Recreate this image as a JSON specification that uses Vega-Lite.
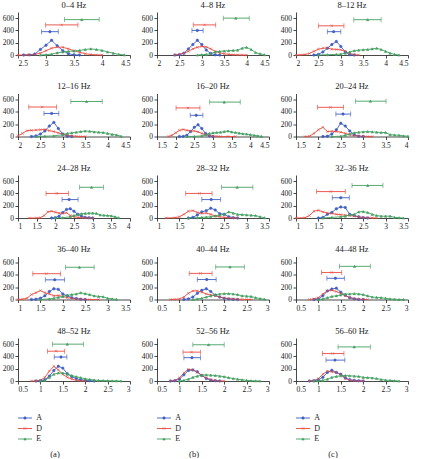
{
  "$schema": "https://vega.github.io/schema/vega-lite/v6.json",
  "padding": {"left": 2, "top": 0, "right": 2, "bottom": 0},
  "data": {"name": "d"},
  "datasets": {
    "d": [
      {"f":"0–4","s":"A","x":2.6,"y":0},{"f":"0–4","s":"A","x":2.7,"y":2},{"f":"0–4","s":"A","x":2.8,"y":15},{"f":"0–4","s":"A","x":2.9,"y":90},{"f":"0–4","s":"A","x":3.0,"y":160},{"f":"0–4","s":"A","x":3.1,"y":240},{"f":"0–4","s":"A","x":3.2,"y":150},{"f":"0–4","s":"A","x":3.3,"y":70},{"f":"0–4","s":"A","x":3.4,"y":20},{"f":"0–4","s":"A","x":3.5,"y":3},{"f":"0–4","s":"A","x":3.6,"y":0},
      {"f":"0–4","s":"D","x":2.5,"y":0},{"f":"0–4","s":"D","x":2.6,"y":0},{"f":"0–4","s":"D","x":2.7,"y":3},{"f":"0–4","s":"D","x":2.8,"y":10},{"f":"0–4","s":"D","x":2.9,"y":30},{"f":"0–4","s":"D","x":3.0,"y":70},{"f":"0–4","s":"D","x":3.1,"y":110},{"f":"0–4","s":"D","x":3.2,"y":130},{"f":"0–4","s":"D","x":3.3,"y":125},{"f":"0–4","s":"D","x":3.4,"y":100},{"f":"0–4","s":"D","x":3.5,"y":70},{"f":"0–4","s":"D","x":3.6,"y":45},{"f":"0–4","s":"D","x":3.7,"y":20},{"f":"0–4","s":"D","x":3.8,"y":8},{"f":"0–4","s":"D","x":3.9,"y":2},{"f":"0–4","s":"D","x":4.0,"y":0},
      {"f":"0–4","s":"E","x":2.9,"y":0},{"f":"0–4","s":"E","x":3.0,"y":5},{"f":"0–4","s":"E","x":3.1,"y":15},{"f":"0–4","s":"E","x":3.2,"y":35},{"f":"0–4","s":"E","x":3.3,"y":50},{"f":"0–4","s":"E","x":3.4,"y":60},{"f":"0–4","s":"E","x":3.5,"y":65},{"f":"0–4","s":"E","x":3.6,"y":75},{"f":"0–4","s":"E","x":3.7,"y":90},{"f":"0–4","s":"E","x":3.8,"y":100},{"f":"0–4","s":"E","x":3.9,"y":90},{"f":"0–4","s":"E","x":4.0,"y":75},{"f":"0–4","s":"E","x":4.1,"y":50},{"f":"0–4","s":"E","x":4.2,"y":30},{"f":"0–4","s":"E","x":4.3,"y":10},{"f":"0–4","s":"E","x":4.4,"y":2},
      {"f":"0–4","s":"A","k":"lo","x":2.92,"y":380},{"f":"0–4","s":"A","k":"m","x":3.07,"y":380},{"f":"0–4","s":"A","k":"hi","x":3.22,"y":380},
      {"f":"0–4","s":"D","k":"lo","x":2.99,"y":490},{"f":"0–4","s":"D","k":"m","x":3.28,"y":490},{"f":"0–4","s":"D","k":"hi","x":3.57,"y":490},
      {"f":"0–4","s":"E","k":"lo","x":3.33,"y":576},{"f":"0–4","s":"E","k":"m","x":3.64,"y":576},{"f":"0–4","s":"E","k":"hi","x":3.95,"y":576},

      {"f":"4–8","s":"A","x":2.4,"y":0},{"f":"4–8","s":"A","x":2.5,"y":5},{"f":"4–8","s":"A","x":2.6,"y":30},{"f":"4–8","s":"A","x":2.7,"y":100},{"f":"4–8","s":"A","x":2.8,"y":170},{"f":"4–8","s":"A","x":2.9,"y":240},{"f":"4–8","s":"A","x":3.0,"y":170},{"f":"4–8","s":"A","x":3.1,"y":80},{"f":"4–8","s":"A","x":3.2,"y":25},{"f":"4–8","s":"A","x":3.3,"y":3},{"f":"4–8","s":"A","x":3.4,"y":0},
      {"f":"4–8","s":"D","x":2.4,"y":0},{"f":"4–8","s":"D","x":2.5,"y":10},{"f":"4–8","s":"D","x":2.6,"y":30},{"f":"4–8","s":"D","x":2.7,"y":60},{"f":"4–8","s":"D","x":2.8,"y":100},{"f":"4–8","s":"D","x":2.9,"y":125},{"f":"4–8","s":"D","x":3.0,"y":140},{"f":"4–8","s":"D","x":3.1,"y":130},{"f":"4–8","s":"D","x":3.2,"y":100},{"f":"4–8","s":"D","x":3.3,"y":60},{"f":"4–8","s":"D","x":3.4,"y":35},{"f":"4–8","s":"D","x":3.5,"y":20},{"f":"4–8","s":"D","x":3.6,"y":10},{"f":"4–8","s":"D","x":3.7,"y":5},{"f":"4–8","s":"D","x":3.8,"y":2},{"f":"4–8","s":"D","x":3.9,"y":0},{"f":"4–8","s":"D","x":4.0,"y":0},
      {"f":"4–8","s":"E","x":2.9,"y":0},{"f":"4–8","s":"E","x":3.0,"y":5},{"f":"4–8","s":"E","x":3.1,"y":10},{"f":"4–8","s":"E","x":3.2,"y":20},{"f":"4–8","s":"E","x":3.3,"y":50},{"f":"4–8","s":"E","x":3.4,"y":60},{"f":"4–8","s":"E","x":3.5,"y":65},{"f":"4–8","s":"E","x":3.6,"y":70},{"f":"4–8","s":"E","x":3.7,"y":75},{"f":"4–8","s":"E","x":3.8,"y":80},{"f":"4–8","s":"E","x":3.9,"y":110},{"f":"4–8","s":"E","x":4.0,"y":125},{"f":"4–8","s":"E","x":4.1,"y":90},{"f":"4–8","s":"E","x":4.2,"y":40},{"f":"4–8","s":"E","x":4.3,"y":20},{"f":"4–8","s":"E","x":4.4,"y":5},
      {"f":"4–8","s":"A","k":"lo","x":2.78,"y":400},{"f":"4–8","s":"A","k":"m","x":2.9,"y":400},{"f":"4–8","s":"A","k":"hi","x":3.03,"y":400},
      {"f":"4–8","s":"D","k":"lo","x":2.81,"y":490},{"f":"4–8","s":"D","k":"m","x":3.06,"y":490},{"f":"4–8","s":"D","k":"hi","x":3.31,"y":490},
      {"f":"4–8","s":"E","k":"lo","x":3.48,"y":600},{"f":"4–8","s":"E","k":"m","x":3.76,"y":600},{"f":"4–8","s":"E","k":"hi","x":4.06,"y":600},

      {"f":"8–12","s":"A","x":2.4,"y":0},{"f":"8–12","s":"A","x":2.5,"y":10},{"f":"8–12","s":"A","x":2.6,"y":50},{"f":"8–12","s":"A","x":2.7,"y":110},{"f":"8–12","s":"A","x":2.8,"y":170},{"f":"8–12","s":"A","x":2.9,"y":220},{"f":"8–12","s":"A","x":3.0,"y":140},{"f":"8–12","s":"A","x":3.1,"y":50},{"f":"8–12","s":"A","x":3.2,"y":5},{"f":"8–12","s":"A","x":3.3,"y":0},
      {"f":"8–12","s":"D","x":2.0,"y":0},{"f":"8–12","s":"D","x":2.1,"y":2},{"f":"8–12","s":"D","x":2.2,"y":8},{"f":"8–12","s":"D","x":2.3,"y":25},{"f":"8–12","s":"D","x":2.4,"y":60},{"f":"8–12","s":"D","x":2.5,"y":95},{"f":"8–12","s":"D","x":2.6,"y":110},{"f":"8–12","s":"D","x":2.7,"y":115},{"f":"8–12","s":"D","x":2.8,"y":95},{"f":"8–12","s":"D","x":2.9,"y":90},{"f":"8–12","s":"D","x":3.0,"y":85},{"f":"8–12","s":"D","x":3.1,"y":60},{"f":"8–12","s":"D","x":3.2,"y":25},{"f":"8–12","s":"D","x":3.3,"y":5},{"f":"8–12","s":"D","x":3.4,"y":0},
      {"f":"8–12","s":"E","x":2.5,"y":0},{"f":"8–12","s":"E","x":2.7,"y":5},{"f":"8–12","s":"E","x":2.9,"y":10},{"f":"8–12","s":"E","x":3.0,"y":15},{"f":"8–12","s":"E","x":3.1,"y":30},{"f":"8–12","s":"E","x":3.2,"y":50},{"f":"8–12","s":"E","x":3.3,"y":70},{"f":"8–12","s":"E","x":3.4,"y":80},{"f":"8–12","s":"E","x":3.5,"y":85},{"f":"8–12","s":"E","x":3.6,"y":90},{"f":"8–12","s":"E","x":3.7,"y":100},{"f":"8–12","s":"E","x":3.8,"y":110},{"f":"8–12","s":"E","x":3.9,"y":90},{"f":"8–12","s":"E","x":4.0,"y":60},{"f":"8–12","s":"E","x":4.1,"y":30},{"f":"8–12","s":"E","x":4.2,"y":10},{"f":"8–12","s":"E","x":4.3,"y":0},
      {"f":"8–12","s":"A","k":"lo","x":2.7,"y":380},{"f":"8–12","s":"A","k":"m","x":2.84,"y":380},{"f":"8–12","s":"A","k":"hi","x":3.0,"y":380},
      {"f":"8–12","s":"D","k":"lo","x":2.5,"y":475},{"f":"8–12","s":"D","k":"m","x":2.8,"y":475},{"f":"8–12","s":"D","k":"hi","x":3.07,"y":475},
      {"f":"8–12","s":"E","k":"lo","x":3.29,"y":575},{"f":"8–12","s":"E","k":"m","x":3.6,"y":575},{"f":"8–12","s":"E","k":"hi","x":3.9,"y":575},

      {"f":"12–16","s":"A","x":2.3,"y":0},{"f":"12–16","s":"A","x":2.4,"y":10},{"f":"12–16","s":"A","x":2.5,"y":40},{"f":"12–16","s":"A","x":2.6,"y":90},{"f":"12–16","s":"A","x":2.7,"y":170},{"f":"12–16","s":"A","x":2.8,"y":230},{"f":"12–16","s":"A","x":2.9,"y":130},{"f":"12–16","s":"A","x":3.0,"y":40},{"f":"12–16","s":"A","x":3.1,"y":5},{"f":"12–16","s":"A","x":3.2,"y":0},
      {"f":"12–16","s":"D","x":2.0,"y":10},{"f":"12–16","s":"D","x":2.1,"y":50},{"f":"12–16","s":"D","x":2.2,"y":95},{"f":"12–16","s":"D","x":2.3,"y":100},{"f":"12–16","s":"D","x":2.4,"y":105},{"f":"12–16","s":"D","x":2.5,"y":110},{"f":"12–16","s":"D","x":2.6,"y":115},{"f":"12–16","s":"D","x":2.7,"y":95},{"f":"12–16","s":"D","x":2.8,"y":80},{"f":"12–16","s":"D","x":2.9,"y":60},{"f":"12–16","s":"D","x":3.0,"y":40},{"f":"12–16","s":"D","x":3.1,"y":20},{"f":"12–16","s":"D","x":3.2,"y":10},{"f":"12–16","s":"D","x":3.3,"y":3},{"f":"12–16","s":"D","x":3.4,"y":0},{"f":"12–16","s":"D","x":3.5,"y":0},
      {"f":"12–16","s":"E","x":2.4,"y":0},{"f":"12–16","s":"E","x":2.6,"y":5},{"f":"12–16","s":"E","x":2.8,"y":10},{"f":"12–16","s":"E","x":3.0,"y":30},{"f":"12–16","s":"E","x":3.1,"y":50},{"f":"12–16","s":"E","x":3.2,"y":60},{"f":"12–16","s":"E","x":3.3,"y":70},{"f":"12–16","s":"E","x":3.4,"y":80},{"f":"12–16","s":"E","x":3.5,"y":90},{"f":"12–16","s":"E","x":3.6,"y":85},{"f":"12–16","s":"E","x":3.7,"y":75},{"f":"12–16","s":"E","x":3.8,"y":70},{"f":"12–16","s":"E","x":3.9,"y":65},{"f":"12–16","s":"E","x":4.0,"y":50},{"f":"12–16","s":"E","x":4.1,"y":35},{"f":"12–16","s":"E","x":4.2,"y":25},{"f":"12–16","s":"E","x":4.3,"y":5},
      {"f":"12–16","s":"A","k":"lo","x":2.58,"y":375},{"f":"12–16","s":"A","k":"m","x":2.75,"y":375},{"f":"12–16","s":"A","k":"hi","x":2.91,"y":375},
      {"f":"12–16","s":"D","k":"lo","x":2.24,"y":480},{"f":"12–16","s":"D","k":"m","x":2.54,"y":480},{"f":"12–16","s":"D","k":"hi","x":2.86,"y":480},
      {"f":"12–16","s":"E","k":"lo","x":3.18,"y":570},{"f":"12–16","s":"E","k":"m","x":3.53,"y":570},{"f":"12–16","s":"E","k":"hi","x":3.88,"y":570},

      {"f":"16–20","s":"A","x":2.1,"y":0},{"f":"16–20","s":"A","x":2.2,"y":2},{"f":"16–20","s":"A","x":2.3,"y":20},{"f":"16–20","s":"A","x":2.4,"y":80},{"f":"16–20","s":"A","x":2.5,"y":150},{"f":"16–20","s":"A","x":2.6,"y":190},{"f":"16–20","s":"A","x":2.7,"y":130},{"f":"16–20","s":"A","x":2.8,"y":50},{"f":"16–20","s":"A","x":2.9,"y":10},{"f":"16–20","s":"A","x":3.0,"y":0},
      {"f":"16–20","s":"D","x":1.8,"y":0},{"f":"16–20","s":"D","x":1.9,"y":20},{"f":"16–20","s":"D","x":2.0,"y":60},{"f":"16–20","s":"D","x":2.1,"y":100},{"f":"16–20","s":"D","x":2.2,"y":115},{"f":"16–20","s":"D","x":2.3,"y":100},{"f":"16–20","s":"D","x":2.4,"y":90},{"f":"16–20","s":"D","x":2.5,"y":90},{"f":"16–20","s":"D","x":2.6,"y":75},{"f":"16–20","s":"D","x":2.7,"y":50},{"f":"16–20","s":"D","x":2.8,"y":30},{"f":"16–20","s":"D","x":2.9,"y":15},{"f":"16–20","s":"D","x":3.0,"y":8},{"f":"16–20","s":"D","x":3.1,"y":3},{"f":"16–20","s":"D","x":3.2,"y":0},{"f":"16–20","s":"D","x":3.4,"y":0},{"f":"16–20","s":"D","x":3.6,"y":0},
      {"f":"16–20","s":"E","x":2.3,"y":0},{"f":"16–20","s":"E","x":2.5,"y":2},{"f":"16–20","s":"E","x":2.7,"y":10},{"f":"16–20","s":"E","x":2.8,"y":30},{"f":"16–20","s":"E","x":2.9,"y":50},{"f":"16–20","s":"E","x":3.0,"y":60},{"f":"16–20","s":"E","x":3.1,"y":65},{"f":"16–20","s":"E","x":3.2,"y":70},{"f":"16–20","s":"E","x":3.3,"y":80},{"f":"16–20","s":"E","x":3.4,"y":90},{"f":"16–20","s":"E","x":3.5,"y":75},{"f":"16–20","s":"E","x":3.6,"y":65},{"f":"16–20","s":"E","x":3.7,"y":55},{"f":"16–20","s":"E","x":3.8,"y":45},{"f":"16–20","s":"E","x":3.9,"y":40},{"f":"16–20","s":"E","x":4.0,"y":30},{"f":"16–20","s":"E","x":4.1,"y":20},{"f":"16–20","s":"E","x":4.2,"y":10},{"f":"16–20","s":"E","x":4.3,"y":3},
      {"f":"16–20","s":"A","k":"lo","x":2.39,"y":345},{"f":"16–20","s":"A","k":"m","x":2.55,"y":345},{"f":"16–20","s":"A","k":"hi","x":2.73,"y":345},
      {"f":"16–20","s":"D","k":"lo","x":2.01,"y":465},{"f":"16–20","s":"D","k":"m","x":2.33,"y":465},{"f":"16–20","s":"D","k":"hi","x":2.65,"y":465},
      {"f":"16–20","s":"E","k":"lo","x":2.91,"y":560},{"f":"16–20","s":"E","k":"m","x":3.3,"y":560},{"f":"16–20","s":"E","k":"hi","x":3.73,"y":560},

      {"f":"20–24","s":"A","x":2.1,"y":0},{"f":"20–24","s":"A","x":2.2,"y":5},{"f":"20–24","s":"A","x":2.3,"y":40},{"f":"20–24","s":"A","x":2.4,"y":110},{"f":"20–24","s":"A","x":2.5,"y":215},{"f":"20–24","s":"A","x":2.6,"y":170},{"f":"20–24","s":"A","x":2.7,"y":90},{"f":"20–24","s":"A","x":2.8,"y":30},{"f":"20–24","s":"A","x":2.9,"y":5},{"f":"20–24","s":"A","x":3.0,"y":0},
      {"f":"20–24","s":"D","x":1.7,"y":0},{"f":"20–24","s":"D","x":1.8,"y":5},{"f":"20–24","s":"D","x":1.9,"y":50},{"f":"20–24","s":"D","x":2.0,"y":110},{"f":"20–24","s":"D","x":2.1,"y":150},{"f":"20–24","s":"D","x":2.2,"y":80},{"f":"20–24","s":"D","x":2.3,"y":85},{"f":"20–24","s":"D","x":2.4,"y":80},{"f":"20–24","s":"D","x":2.5,"y":70},{"f":"20–24","s":"D","x":2.6,"y":50},{"f":"20–24","s":"D","x":2.7,"y":30},{"f":"20–24","s":"D","x":2.8,"y":15},{"f":"20–24","s":"D","x":2.9,"y":8},{"f":"20–24","s":"D","x":3.0,"y":3},{"f":"20–24","s":"D","x":3.1,"y":0},{"f":"20–24","s":"D","x":3.2,"y":0},
      {"f":"20–24","s":"E","x":2.3,"y":0},{"f":"20–24","s":"E","x":2.5,"y":5},{"f":"20–24","s":"E","x":2.6,"y":20},{"f":"20–24","s":"E","x":2.7,"y":40},{"f":"20–24","s":"E","x":2.8,"y":60},{"f":"20–24","s":"E","x":2.9,"y":70},{"f":"20–24","s":"E","x":3.0,"y":75},{"f":"20–24","s":"E","x":3.1,"y":80},{"f":"20–24","s":"E","x":3.2,"y":75},{"f":"20–24","s":"E","x":3.3,"y":70},{"f":"20–24","s":"E","x":3.4,"y":65},{"f":"20–24","s":"E","x":3.5,"y":65},{"f":"20–24","s":"E","x":3.6,"y":30},{"f":"20–24","s":"E","x":3.7,"y":25},{"f":"20–24","s":"E","x":3.8,"y":20},{"f":"20–24","s":"E","x":3.9,"y":10},{"f":"20–24","s":"E","x":4.0,"y":5},
      {"f":"20–24","s":"A","k":"lo","x":2.39,"y":365},{"f":"20–24","s":"A","k":"m","x":2.55,"y":365},{"f":"20–24","s":"A","k":"hi","x":2.72,"y":365},
      {"f":"20–24","s":"D","k":"lo","x":1.98,"y":475},{"f":"20–24","s":"D","k":"m","x":2.27,"y":475},{"f":"20–24","s":"D","k":"hi","x":2.56,"y":475},
      {"f":"20–24","s":"E","k":"lo","x":2.83,"y":575},{"f":"20–24","s":"E","k":"m","x":3.16,"y":575},{"f":"20–24","s":"E","k":"hi","x":3.51,"y":575},

      {"f":"24–28","s":"A","x":1.9,"y":0},{"f":"24–28","s":"A","x":2.0,"y":5},{"f":"24–28","s":"A","x":2.1,"y":30},{"f":"24–28","s":"A","x":2.2,"y":90},{"f":"24–28","s":"A","x":2.3,"y":140},{"f":"24–28","s":"A","x":2.4,"y":150},{"f":"24–28","s":"A","x":2.5,"y":110},{"f":"24–28","s":"A","x":2.6,"y":60},{"f":"24–28","s":"A","x":2.7,"y":30},{"f":"24–28","s":"A","x":2.8,"y":10},{"f":"24–28","s":"A","x":2.9,"y":3},{"f":"24–28","s":"A","x":3.0,"y":0},
      {"f":"24–28","s":"D","x":1.3,"y":0},{"f":"24–28","s":"D","x":1.5,"y":0},{"f":"24–28","s":"D","x":1.6,"y":5},{"f":"24–28","s":"D","x":1.7,"y":40},{"f":"24–28","s":"D","x":1.8,"y":100},{"f":"24–28","s":"D","x":1.9,"y":110},{"f":"24–28","s":"D","x":2.0,"y":95},{"f":"24–28","s":"D","x":2.1,"y":80},{"f":"24–28","s":"D","x":2.2,"y":75},{"f":"24–28","s":"D","x":2.3,"y":85},{"f":"24–28","s":"D","x":2.4,"y":40},{"f":"24–28","s":"D","x":2.5,"y":20},{"f":"24–28","s":"D","x":2.6,"y":10},{"f":"24–28","s":"D","x":2.7,"y":5},{"f":"24–28","s":"D","x":2.8,"y":2},{"f":"24–28","s":"D","x":2.9,"y":0},{"f":"24–28","s":"D","x":3.0,"y":0},
      {"f":"24–28","s":"E","x":2.0,"y":0},{"f":"24–28","s":"E","x":2.2,"y":5},{"f":"24–28","s":"E","x":2.4,"y":20},{"f":"24–28","s":"E","x":2.5,"y":40},{"f":"24–28","s":"E","x":2.6,"y":60},{"f":"24–28","s":"E","x":2.7,"y":70},{"f":"24–28","s":"E","x":2.8,"y":75},{"f":"24–28","s":"E","x":2.9,"y":80},{"f":"24–28","s":"E","x":3.0,"y":80},{"f":"24–28","s":"E","x":3.1,"y":75},{"f":"24–28","s":"E","x":3.2,"y":50},{"f":"24–28","s":"E","x":3.3,"y":45},{"f":"24–28","s":"E","x":3.4,"y":40},{"f":"24–28","s":"E","x":3.5,"y":35},{"f":"24–28","s":"E","x":3.6,"y":20},{"f":"24–28","s":"E","x":3.7,"y":5},
      {"f":"24–28","s":"A","k":"lo","x":2.18,"y":300},{"f":"24–28","s":"A","k":"m","x":2.37,"y":300},{"f":"24–28","s":"A","k":"hi","x":2.61,"y":300},
      {"f":"24–28","s":"D","k":"lo","x":1.75,"y":400},{"f":"24–28","s":"D","k":"m","x":2.04,"y":400},{"f":"24–28","s":"D","k":"hi","x":2.35,"y":400},
      {"f":"24–28","s":"E","k":"lo","x":2.65,"y":500},{"f":"24–28","s":"E","k":"m","x":2.97,"y":500},{"f":"24–28","s":"E","k":"hi","x":3.29,"y":500},

      {"f":"28–32","s":"A","x":1.7,"y":0},{"f":"28–32","s":"A","x":1.8,"y":10},{"f":"28–32","s":"A","x":1.9,"y":50},{"f":"28–32","s":"A","x":2.0,"y":100},{"f":"28–32","s":"A","x":2.1,"y":120},{"f":"28–32","s":"A","x":2.2,"y":160},{"f":"28–32","s":"A","x":2.3,"y":130},{"f":"28–32","s":"A","x":2.4,"y":70},{"f":"28–32","s":"A","x":2.5,"y":60},{"f":"28–32","s":"A","x":2.6,"y":20},{"f":"28–32","s":"A","x":2.7,"y":5},{"f":"28–32","s":"A","x":2.8,"y":0},
      {"f":"28–32","s":"D","x":1.2,"y":0},{"f":"28–32","s":"D","x":1.4,"y":5},{"f":"28–32","s":"D","x":1.5,"y":20},{"f":"28–32","s":"D","x":1.6,"y":60},{"f":"28–32","s":"D","x":1.7,"y":110},{"f":"28–32","s":"D","x":1.8,"y":120},{"f":"28–32","s":"D","x":1.9,"y":90},{"f":"28–32","s":"D","x":2.0,"y":75},{"f":"28–32","s":"D","x":2.1,"y":80},{"f":"28–32","s":"D","x":2.2,"y":60},{"f":"28–32","s":"D","x":2.3,"y":30},{"f":"28–32","s":"D","x":2.4,"y":20},{"f":"28–32","s":"D","x":2.5,"y":10},{"f":"28–32","s":"D","x":2.6,"y":5},{"f":"28–32","s":"D","x":2.7,"y":2},{"f":"28–32","s":"D","x":2.8,"y":0},
      {"f":"28–32","s":"E","x":1.7,"y":0},{"f":"28–32","s":"E","x":1.9,"y":5},{"f":"28–32","s":"E","x":2.0,"y":10},{"f":"28–32","s":"E","x":2.1,"y":15},{"f":"28–32","s":"E","x":2.2,"y":20},{"f":"28–32","s":"E","x":2.3,"y":35},{"f":"28–32","s":"E","x":2.4,"y":50},{"f":"28–32","s":"E","x":2.5,"y":60},{"f":"28–32","s":"E","x":2.6,"y":100},{"f":"28–32","s":"E","x":2.7,"y":80},{"f":"28–32","s":"E","x":2.8,"y":60},{"f":"28–32","s":"E","x":2.9,"y":55},{"f":"28–32","s":"E","x":3.0,"y":50},{"f":"28–32","s":"E","x":3.1,"y":45},{"f":"28–32","s":"E","x":3.2,"y":40},{"f":"28–32","s":"E","x":3.3,"y":20},{"f":"28–32","s":"E","x":3.4,"y":5},
      {"f":"28–32","s":"A","k":"lo","x":2.0,"y":300},{"f":"28–32","s":"A","k":"m","x":2.21,"y":300},{"f":"28–32","s":"A","k":"hi","x":2.42,"y":300},
      {"f":"28–32","s":"D","k":"lo","x":1.64,"y":400},{"f":"28–32","s":"D","k":"m","x":1.95,"y":400},{"f":"28–32","s":"D","k":"hi","x":2.23,"y":400},
      {"f":"28–32","s":"E","k":"lo","x":2.44,"y":500},{"f":"28–32","s":"E","k":"m","x":2.79,"y":500},{"f":"28–32","s":"E","k":"hi","x":3.14,"y":500},

      {"f":"32–36","s":"A","x":1.5,"y":0},{"f":"32–36","s":"A","x":1.6,"y":10},{"f":"32–36","s":"A","x":1.7,"y":60},{"f":"32–36","s":"A","x":1.8,"y":90},{"f":"32–36","s":"A","x":1.9,"y":150},{"f":"32–36","s":"A","x":2.0,"y":180},{"f":"32–36","s":"A","x":2.1,"y":170},{"f":"32–36","s":"A","x":2.2,"y":60},{"f":"32–36","s":"A","x":2.3,"y":40},{"f":"32–36","s":"A","x":2.4,"y":20},{"f":"32–36","s":"A","x":2.5,"y":5},{"f":"32–36","s":"A","x":2.6,"y":0},
      {"f":"32–36","s":"D","x":1.0,"y":0},{"f":"32–36","s":"D","x":1.2,"y":5},{"f":"32–36","s":"D","x":1.3,"y":40},{"f":"32–36","s":"D","x":1.4,"y":110},{"f":"32–36","s":"D","x":1.5,"y":125},{"f":"32–36","s":"D","x":1.6,"y":100},{"f":"32–36","s":"D","x":1.7,"y":80},{"f":"32–36","s":"D","x":1.8,"y":75},{"f":"32–36","s":"D","x":1.9,"y":60},{"f":"32–36","s":"D","x":2.0,"y":55},{"f":"32–36","s":"D","x":2.1,"y":45},{"f":"32–36","s":"D","x":2.2,"y":40},{"f":"32–36","s":"D","x":2.3,"y":30},{"f":"32–36","s":"D","x":2.4,"y":15},{"f":"32–36","s":"D","x":2.5,"y":10},{"f":"32–36","s":"D","x":2.6,"y":5},{"f":"32–36","s":"D","x":2.7,"y":2},{"f":"32–36","s":"D","x":2.8,"y":0},
      {"f":"32–36","s":"E","x":1.6,"y":0},{"f":"32–36","s":"E","x":1.8,"y":10},{"f":"32–36","s":"E","x":2.0,"y":20},{"f":"32–36","s":"E","x":2.1,"y":30},{"f":"32–36","s":"E","x":2.2,"y":50},{"f":"32–36","s":"E","x":2.3,"y":60},{"f":"32–36","s":"E","x":2.4,"y":100},{"f":"32–36","s":"E","x":2.5,"y":105},{"f":"32–36","s":"E","x":2.6,"y":90},{"f":"32–36","s":"E","x":2.7,"y":60},{"f":"32–36","s":"E","x":2.8,"y":40},{"f":"32–36","s":"E","x":2.9,"y":30},{"f":"32–36","s":"E","x":3.0,"y":30},{"f":"32–36","s":"E","x":3.1,"y":30},{"f":"32–36","s":"E","x":3.2,"y":10},{"f":"32–36","s":"E","x":3.3,"y":5},{"f":"32–36","s":"E","x":3.4,"y":0},
      {"f":"32–36","s":"A","k":"lo","x":1.81,"y":330},{"f":"32–36","s":"A","k":"m","x":2.0,"y":330},{"f":"32–36","s":"A","k":"hi","x":2.19,"y":330},
      {"f":"32–36","s":"D","k":"lo","x":1.46,"y":430},{"f":"32–36","s":"D","k":"m","x":1.78,"y":430},{"f":"32–36","s":"D","k":"hi","x":2.1,"y":430},
      {"f":"32–36","s":"E","k":"lo","x":2.25,"y":530},{"f":"32–36","s":"E","k":"m","x":2.6,"y":530},{"f":"32–36","s":"E","k":"hi","x":2.94,"y":530},

      {"f":"36–40","s":"A","x":1.3,"y":0},{"f":"36–40","s":"A","x":1.4,"y":5},{"f":"36–40","s":"A","x":1.5,"y":20},{"f":"36–40","s":"A","x":1.6,"y":60},{"f":"36–40","s":"A","x":1.7,"y":130},{"f":"36–40","s":"A","x":1.8,"y":175},{"f":"36–40","s":"A","x":1.9,"y":165},{"f":"36–40","s":"A","x":2.0,"y":90},{"f":"36–40","s":"A","x":2.1,"y":60},{"f":"36–40","s":"A","x":2.2,"y":30},{"f":"36–40","s":"A","x":2.3,"y":15},{"f":"36–40","s":"A","x":2.4,"y":5},{"f":"36–40","s":"A","x":2.5,"y":0},
      {"f":"36–40","s":"D","x":1.0,"y":0},{"f":"36–40","s":"D","x":1.1,"y":5},{"f":"36–40","s":"D","x":1.2,"y":20},{"f":"36–40","s":"D","x":1.3,"y":80},{"f":"36–40","s":"D","x":1.4,"y":110},{"f":"36–40","s":"D","x":1.5,"y":145},{"f":"36–40","s":"D","x":1.6,"y":110},{"f":"36–40","s":"D","x":1.7,"y":90},{"f":"36–40","s":"D","x":1.8,"y":60},{"f":"36–40","s":"D","x":1.9,"y":65},{"f":"36–40","s":"D","x":2.0,"y":50},{"f":"36–40","s":"D","x":2.1,"y":30},{"f":"36–40","s":"D","x":2.2,"y":20},{"f":"36–40","s":"D","x":2.3,"y":10},{"f":"36–40","s":"D","x":2.4,"y":5},{"f":"36–40","s":"D","x":2.5,"y":2},{"f":"36–40","s":"D","x":2.6,"y":0},{"f":"36–40","s":"D","x":2.8,"y":0},
      {"f":"36–40","s":"E","x":1.5,"y":0},{"f":"36–40","s":"E","x":1.7,"y":10},{"f":"36–40","s":"E","x":1.8,"y":20},{"f":"36–40","s":"E","x":1.9,"y":35},{"f":"36–40","s":"E","x":2.0,"y":50},{"f":"36–40","s":"E","x":2.1,"y":70},{"f":"36–40","s":"E","x":2.2,"y":80},{"f":"36–40","s":"E","x":2.3,"y":90},{"f":"36–40","s":"E","x":2.4,"y":110},{"f":"36–40","s":"E","x":2.5,"y":95},{"f":"36–40","s":"E","x":2.6,"y":80},{"f":"36–40","s":"E","x":2.7,"y":60},{"f":"36–40","s":"E","x":2.8,"y":50},{"f":"36–40","s":"E","x":2.9,"y":45},{"f":"36–40","s":"E","x":3.0,"y":20},{"f":"36–40","s":"E","x":3.1,"y":10},{"f":"36–40","s":"E","x":3.2,"y":3},
      {"f":"36–40","s":"A","k":"lo","x":1.61,"y":320},{"f":"36–40","s":"A","k":"m","x":1.82,"y":320},{"f":"36–40","s":"A","k":"hi","x":2.04,"y":320},
      {"f":"36–40","s":"D","k":"lo","x":1.33,"y":420},{"f":"36–40","s":"D","k":"m","x":1.63,"y":420},{"f":"36–40","s":"D","k":"hi","x":1.95,"y":420},
      {"f":"36–40","s":"E","k":"lo","x":2.06,"y":525},{"f":"36–40","s":"E","k":"m","x":2.37,"y":525},{"f":"36–40","s":"E","k":"hi","x":2.7,"y":525},

      {"f":"40–44","s":"A","x":1.1,"y":0},{"f":"40–44","s":"A","x":1.2,"y":10},{"f":"40–44","s":"A","x":1.3,"y":40},{"f":"40–44","s":"A","x":1.4,"y":100},{"f":"40–44","s":"A","x":1.5,"y":150},{"f":"40–44","s":"A","x":1.6,"y":175},{"f":"40–44","s":"A","x":1.7,"y":130},{"f":"40–44","s":"A","x":1.8,"y":70},{"f":"40–44","s":"A","x":1.9,"y":40},{"f":"40–44","s":"A","x":2.0,"y":20},{"f":"40–44","s":"A","x":2.1,"y":10},{"f":"40–44","s":"A","x":2.2,"y":3},{"f":"40–44","s":"A","x":2.3,"y":0},
      {"f":"40–44","s":"D","x":0.8,"y":0},{"f":"40–44","s":"D","x":0.9,"y":2},{"f":"40–44","s":"D","x":1.0,"y":10},{"f":"40–44","s":"D","x":1.1,"y":40},{"f":"40–44","s":"D","x":1.2,"y":100},{"f":"40–44","s":"D","x":1.3,"y":140},{"f":"40–44","s":"D","x":1.4,"y":140},{"f":"40–44","s":"D","x":1.5,"y":120},{"f":"40–44","s":"D","x":1.6,"y":90},{"f":"40–44","s":"D","x":1.7,"y":75},{"f":"40–44","s":"D","x":1.8,"y":60},{"f":"40–44","s":"D","x":1.9,"y":40},{"f":"40–44","s":"D","x":2.0,"y":25},{"f":"40–44","s":"D","x":2.1,"y":15},{"f":"40–44","s":"D","x":2.2,"y":10},{"f":"40–44","s":"D","x":2.3,"y":5},{"f":"40–44","s":"D","x":2.4,"y":2},{"f":"40–44","s":"D","x":2.5,"y":0},{"f":"40–44","s":"D","x":2.6,"y":0},
      {"f":"40–44","s":"E","x":1.3,"y":0},{"f":"40–44","s":"E","x":1.4,"y":10},{"f":"40–44","s":"E","x":1.5,"y":20},{"f":"40–44","s":"E","x":1.6,"y":40},{"f":"40–44","s":"E","x":1.7,"y":60},{"f":"40–44","s":"E","x":1.8,"y":80},{"f":"40–44","s":"E","x":1.9,"y":90},{"f":"40–44","s":"E","x":2.0,"y":95},{"f":"40–44","s":"E","x":2.1,"y":95},{"f":"40–44","s":"E","x":2.2,"y":90},{"f":"40–44","s":"E","x":2.3,"y":80},{"f":"40–44","s":"E","x":2.4,"y":60},{"f":"40–44","s":"E","x":2.5,"y":55},{"f":"40–44","s":"E","x":2.6,"y":50},{"f":"40–44","s":"E","x":2.7,"y":30},{"f":"40–44","s":"E","x":2.8,"y":15},{"f":"40–44","s":"E","x":2.9,"y":5},
      {"f":"40–44","s":"A","k":"lo","x":1.4,"y":325},{"f":"40–44","s":"A","k":"m","x":1.61,"y":325},{"f":"40–44","s":"A","k":"hi","x":1.82,"y":325},
      {"f":"40–44","s":"D","k":"lo","x":1.22,"y":425},{"f":"40–44","s":"D","k":"m","x":1.47,"y":425},{"f":"40–44","s":"D","k":"hi","x":1.73,"y":425},
      {"f":"40–44","s":"E","k":"lo","x":1.81,"y":530},{"f":"40–44","s":"E","k":"m","x":2.13,"y":530},{"f":"40–44","s":"E","k":"hi","x":2.45,"y":530},

      {"f":"44–48","s":"A","x":0.9,"y":0},{"f":"44–48","s":"A","x":1.0,"y":10},{"f":"44–48","s":"A","x":1.1,"y":60},{"f":"44–48","s":"A","x":1.2,"y":140},{"f":"44–48","s":"A","x":1.3,"y":170},{"f":"44–48","s":"A","x":1.4,"y":185},{"f":"44–48","s":"A","x":1.5,"y":120},{"f":"44–48","s":"A","x":1.6,"y":70},{"f":"44–48","s":"A","x":1.7,"y":30},{"f":"44–48","s":"A","x":1.8,"y":10},{"f":"44–48","s":"A","x":1.9,"y":2},{"f":"44–48","s":"A","x":2.0,"y":0},
      {"f":"44–48","s":"D","x":0.8,"y":0},{"f":"44–48","s":"D","x":0.9,"y":10},{"f":"44–48","s":"D","x":1.0,"y":30},{"f":"44–48","s":"D","x":1.1,"y":90},{"f":"44–48","s":"D","x":1.2,"y":140},{"f":"44–48","s":"D","x":1.3,"y":150},{"f":"44–48","s":"D","x":1.4,"y":130},{"f":"44–48","s":"D","x":1.5,"y":100},{"f":"44–48","s":"D","x":1.6,"y":60},{"f":"44–48","s":"D","x":1.7,"y":30},{"f":"44–48","s":"D","x":1.8,"y":15},{"f":"44–48","s":"D","x":1.9,"y":5},{"f":"44–48","s":"D","x":2.0,"y":2},{"f":"44–48","s":"D","x":2.1,"y":0},
      {"f":"44–48","s":"E","x":1.0,"y":0},{"f":"44–48","s":"E","x":1.1,"y":10},{"f":"44–48","s":"E","x":1.2,"y":30},{"f":"44–48","s":"E","x":1.3,"y":50},{"f":"44–48","s":"E","x":1.4,"y":60},{"f":"44–48","s":"E","x":1.5,"y":75},{"f":"44–48","s":"E","x":1.6,"y":90},{"f":"44–48","s":"E","x":1.7,"y":90},{"f":"44–48","s":"E","x":1.8,"y":95},{"f":"44–48","s":"E","x":1.9,"y":90},{"f":"44–48","s":"E","x":2.0,"y":80},{"f":"44–48","s":"E","x":2.1,"y":60},{"f":"44–48","s":"E","x":2.2,"y":40},{"f":"44–48","s":"E","x":2.3,"y":35},{"f":"44–48","s":"E","x":2.4,"y":30},{"f":"44–48","s":"E","x":2.5,"y":20},{"f":"44–48","s":"E","x":2.6,"y":10},{"f":"44–48","s":"E","x":2.7,"y":5},{"f":"44–48","s":"E","x":2.8,"y":0},{"f":"44–48","s":"E","x":2.9,"y":0},
      {"f":"44–48","s":"A","k":"lo","x":1.19,"y":345},{"f":"44–48","s":"A","k":"m","x":1.38,"y":345},{"f":"44–48","s":"A","k":"hi","x":1.58,"y":345},
      {"f":"44–48","s":"D","k":"lo","x":1.07,"y":440},{"f":"44–48","s":"D","k":"m","x":1.3,"y":440},{"f":"44–48","s":"D","k":"hi","x":1.52,"y":440},
      {"f":"44–48","s":"E","k":"lo","x":1.47,"y":540},{"f":"44–48","s":"E","k":"m","x":1.81,"y":540},{"f":"44–48","s":"E","k":"hi","x":2.16,"y":540},

      {"f":"48–52","s":"A","x":0.9,"y":0},{"f":"48–52","s":"A","x":1.0,"y":5},{"f":"48–52","s":"A","x":1.1,"y":20},{"f":"48–52","s":"A","x":1.2,"y":80},{"f":"48–52","s":"A","x":1.3,"y":170},{"f":"48–52","s":"A","x":1.4,"y":240},{"f":"48–52","s":"A","x":1.5,"y":210},{"f":"48–52","s":"A","x":1.6,"y":120},{"f":"48–52","s":"A","x":1.7,"y":70},{"f":"48–52","s":"A","x":1.8,"y":40},{"f":"48–52","s":"A","x":1.9,"y":20},{"f":"48–52","s":"A","x":2.0,"y":10},{"f":"48–52","s":"A","x":2.1,"y":5},{"f":"48–52","s":"A","x":2.2,"y":0},
      {"f":"48–52","s":"D","x":0.8,"y":0},{"f":"48–52","s":"D","x":0.9,"y":2},{"f":"48–52","s":"D","x":1.0,"y":10},{"f":"48–52","s":"D","x":1.1,"y":60},{"f":"48–52","s":"D","x":1.2,"y":160},{"f":"48–52","s":"D","x":1.3,"y":240},{"f":"48–52","s":"D","x":1.4,"y":180},{"f":"48–52","s":"D","x":1.5,"y":110},{"f":"48–52","s":"D","x":1.6,"y":60},{"f":"48–52","s":"D","x":1.7,"y":30},{"f":"48–52","s":"D","x":1.8,"y":10},{"f":"48–52","s":"D","x":1.9,"y":3},{"f":"48–52","s":"D","x":2.0,"y":0},
      {"f":"48–52","s":"E","x":1.0,"y":0},{"f":"48–52","s":"E","x":1.1,"y":10},{"f":"48–52","s":"E","x":1.2,"y":60},{"f":"48–52","s":"E","x":1.3,"y":110},{"f":"48–52","s":"E","x":1.4,"y":130},{"f":"48–52","s":"E","x":1.5,"y":130},{"f":"48–52","s":"E","x":1.6,"y":110},{"f":"48–52","s":"E","x":1.7,"y":90},{"f":"48–52","s":"E","x":1.8,"y":70},{"f":"48–52","s":"E","x":1.9,"y":55},{"f":"48–52","s":"E","x":2.0,"y":35},{"f":"48–52","s":"E","x":2.1,"y":25},{"f":"48–52","s":"E","x":2.2,"y":15},{"f":"48–52","s":"E","x":2.3,"y":10},{"f":"48–52","s":"E","x":2.4,"y":8},{"f":"48–52","s":"E","x":2.5,"y":5},{"f":"48–52","s":"E","x":2.6,"y":3},{"f":"48–52","s":"E","x":2.7,"y":2},{"f":"48–52","s":"E","x":2.8,"y":0},
      {"f":"48–52","s":"A","k":"lo","x":1.31,"y":390},{"f":"48–52","s":"A","k":"m","x":1.46,"y":390},{"f":"48–52","s":"A","k":"hi","x":1.59,"y":390},
      {"f":"48–52","s":"D","k":"lo","x":1.16,"y":485},{"f":"48–52","s":"D","k":"m","x":1.35,"y":485},{"f":"48–52","s":"D","k":"hi","x":1.54,"y":485},
      {"f":"48–52","s":"E","k":"lo","x":1.27,"y":600},{"f":"48–52","s":"E","k":"m","x":1.6,"y":600},{"f":"48–52","s":"E","k":"hi","x":1.96,"y":600},

      {"f":"52–56","s":"A","x":0.8,"y":0},{"f":"52–56","s":"A","x":0.9,"y":5},{"f":"52–56","s":"A","x":1.0,"y":30},{"f":"52–56","s":"A","x":1.1,"y":100},{"f":"52–56","s":"A","x":1.2,"y":170},{"f":"52–56","s":"A","x":1.3,"y":180},{"f":"52–56","s":"A","x":1.4,"y":150},{"f":"52–56","s":"A","x":1.5,"y":90},{"f":"52–56","s":"A","x":1.6,"y":40},{"f":"52–56","s":"A","x":1.7,"y":15},{"f":"52–56","s":"A","x":1.8,"y":5},{"f":"52–56","s":"A","x":1.9,"y":0},
      {"f":"52–56","s":"D","x":0.8,"y":0},{"f":"52–56","s":"D","x":0.9,"y":10},{"f":"52–56","s":"D","x":1.0,"y":50},{"f":"52–56","s":"D","x":1.1,"y":130},{"f":"52–56","s":"D","x":1.2,"y":190},{"f":"52–56","s":"D","x":1.3,"y":180},{"f":"52–56","s":"D","x":1.4,"y":140},{"f":"52–56","s":"D","x":1.5,"y":90},{"f":"52–56","s":"D","x":1.6,"y":50},{"f":"52–56","s":"D","x":1.7,"y":20},{"f":"52–56","s":"D","x":1.8,"y":8},{"f":"52–56","s":"D","x":1.9,"y":2},{"f":"52–56","s":"D","x":2.0,"y":0},
      {"f":"52–56","s":"E","x":1.0,"y":0},{"f":"52–56","s":"E","x":1.1,"y":10},{"f":"52–56","s":"E","x":1.2,"y":30},{"f":"52–56","s":"E","x":1.3,"y":60},{"f":"52–56","s":"E","x":1.4,"y":80},{"f":"52–56","s":"E","x":1.5,"y":95},{"f":"52–56","s":"E","x":1.6,"y":100},{"f":"52–56","s":"E","x":1.7,"y":95},{"f":"52–56","s":"E","x":1.8,"y":90},{"f":"52–56","s":"E","x":1.9,"y":80},{"f":"52–56","s":"E","x":2.0,"y":70},{"f":"52–56","s":"E","x":2.1,"y":55},{"f":"52–56","s":"E","x":2.2,"y":40},{"f":"52–56","s":"E","x":2.3,"y":30},{"f":"52–56","s":"E","x":2.4,"y":20},{"f":"52–56","s":"E","x":2.5,"y":10},{"f":"52–56","s":"E","x":2.6,"y":5},{"f":"52–56","s":"E","x":2.7,"y":2},{"f":"52–56","s":"E","x":2.8,"y":0},
      {"f":"52–56","s":"A","k":"lo","x":1.1,"y":380},{"f":"52–56","s":"A","k":"m","x":1.28,"y":380},{"f":"52–56","s":"A","k":"hi","x":1.47,"y":380},
      {"f":"52–56","s":"D","k":"lo","x":1.08,"y":470},{"f":"52–56","s":"D","k":"m","x":1.27,"y":470},{"f":"52–56","s":"D","k":"hi","x":1.47,"y":470},
      {"f":"52–56","s":"E","k":"lo","x":1.3,"y":590},{"f":"52–56","s":"E","k":"m","x":1.65,"y":590},{"f":"52–56","s":"E","k":"hi","x":2.0,"y":590},

      {"f":"56–60","s":"A","x":0.8,"y":0},{"f":"56–60","s":"A","x":0.9,"y":5},{"f":"56–60","s":"A","x":1.0,"y":20},{"f":"56–60","s":"A","x":1.1,"y":60},{"f":"56–60","s":"A","x":1.2,"y":140},{"f":"56–60","s":"A","x":1.3,"y":175},{"f":"56–60","s":"A","x":1.4,"y":140},{"f":"56–60","s":"A","x":1.5,"y":110},{"f":"56–60","s":"A","x":1.6,"y":50},{"f":"56–60","s":"A","x":1.7,"y":20},{"f":"56–60","s":"A","x":1.8,"y":10},{"f":"56–60","s":"A","x":1.9,"y":3},{"f":"56–60","s":"A","x":2.0,"y":0},
      {"f":"56–60","s":"D","x":0.8,"y":0},{"f":"56–60","s":"D","x":0.9,"y":5},{"f":"56–60","s":"D","x":1.0,"y":40},{"f":"56–60","s":"D","x":1.1,"y":110},{"f":"56–60","s":"D","x":1.2,"y":160},{"f":"56–60","s":"D","x":1.3,"y":150},{"f":"56–60","s":"D","x":1.4,"y":140},{"f":"56–60","s":"D","x":1.5,"y":100},{"f":"56–60","s":"D","x":1.6,"y":40},{"f":"56–60","s":"D","x":1.7,"y":15},{"f":"56–60","s":"D","x":1.8,"y":5},{"f":"56–60","s":"D","x":1.9,"y":2},{"f":"56–60","s":"D","x":2.0,"y":0},
      {"f":"56–60","s":"E","x":0.9,"y":0},{"f":"56–60","s":"E","x":1.0,"y":5},{"f":"56–60","s":"E","x":1.1,"y":10},{"f":"56–60","s":"E","x":1.2,"y":30},{"f":"56–60","s":"E","x":1.3,"y":60},{"f":"56–60","s":"E","x":1.4,"y":75},{"f":"56–60","s":"E","x":1.5,"y":85},{"f":"56–60","s":"E","x":1.6,"y":90},{"f":"56–60","s":"E","x":1.7,"y":85},{"f":"56–60","s":"E","x":1.8,"y":80},{"f":"56–60","s":"E","x":1.9,"y":75},{"f":"56–60","s":"E","x":2.0,"y":60},{"f":"56–60","s":"E","x":2.1,"y":55},{"f":"56–60","s":"E","x":2.2,"y":50},{"f":"56–60","s":"E","x":2.3,"y":40},{"f":"56–60","s":"E","x":2.4,"y":25},{"f":"56–60","s":"E","x":2.5,"y":15},{"f":"56–60","s":"E","x":2.6,"y":10},{"f":"56–60","s":"E","x":2.7,"y":5},{"f":"56–60","s":"E","x":2.8,"y":0},
      {"f":"56–60","s":"A","k":"lo","x":1.17,"y":340},{"f":"56–60","s":"A","k":"m","x":1.37,"y":340},{"f":"56–60","s":"A","k":"hi","x":1.59,"y":340},
      {"f":"56–60","s":"D","k":"lo","x":1.09,"y":447},{"f":"56–60","s":"D","k":"m","x":1.32,"y":447},{"f":"56–60","s":"D","k":"hi","x":1.57,"y":447},
      {"f":"56–60","s":"E","k":"lo","x":1.44,"y":555},{"f":"56–60","s":"E","k":"m","x":1.8,"y":555},{"f":"56–60","s":"E","k":"hi","x":2.16,"y":555}
    ],
    "keys": [{"s": "A"}, {"s": "D"}, {"s": "E"}]
  },
  "hconcat": [
    {
      "spacing": 14.5,
      "vconcat": [
        {"title": "0–4 Hz", "width": 112, "height": 43, "transform": [{"filter": "datum.f == '0–4'"}],
         "encoding": {"x": {"field": "x", "type": "quantitative", "title": null, "scale": {"domain": [2.5, 4.5], "nice": false, "zero": false}, "axis": {"values": [2.5, 3, 3.5, 4, 4.5], "format": "~g"}},
                      "y": {"field": "y", "type": "quantitative", "title": null, "scale": {"domain": [0, 700], "nice": false}, "axis": {"values": [0, 200, 400, 600]}},
                      "color": {"field": "s", "type": "nominal"}},
         "layer": [
           {"transform": [{"filter": "!datum.k"}], "mark": {"type": "line", "strokeWidth": 0.9}},
           {"transform": [{"filter": "datum.k"}], "mark": {"type": "line", "strokeWidth": 0.9}},
           {"transform": [{"filter": "datum.k == 'lo' || datum.k == 'hi'"}], "mark": {"type": "tick", "orient": "vertical", "size": 5, "thickness": 0.9}},
           {"transform": [{"filter": "datum.k != 'lo' && datum.k != 'hi'"}], "mark": {"type": "point", "filled": true, "size": 6, "strokeWidth": 0.6, "opacity": 1},
            "encoding": {"shape": {"field": "s", "type": "nominal"}, "stroke": {"field": "s", "type": "nominal"}}}
         ]},
        {"title": "12–16 Hz", "width": 112, "height": 43, "transform": [{"filter": "datum.f == '12–16'"}],
         "encoding": {"x": {"field": "x", "type": "quantitative", "title": null, "scale": {"domain": [2, 4.5], "nice": false, "zero": false}, "axis": {"values": [2, 2.5, 3, 3.5, 4, 4.5], "format": "~g"}},
                      "y": {"field": "y", "type": "quantitative", "title": null, "scale": {"domain": [0, 700], "nice": false}, "axis": {"values": [0, 200, 400, 600]}},
                      "color": {"field": "s", "type": "nominal"}},
         "layer": [
           {"transform": [{"filter": "!datum.k"}], "mark": {"type": "line", "strokeWidth": 0.9}},
           {"transform": [{"filter": "datum.k"}], "mark": {"type": "line", "strokeWidth": 0.9}},
           {"transform": [{"filter": "datum.k == 'lo' || datum.k == 'hi'"}], "mark": {"type": "tick", "orient": "vertical", "size": 5, "thickness": 0.9}},
           {"transform": [{"filter": "datum.k != 'lo' && datum.k != 'hi'"}], "mark": {"type": "point", "filled": true, "size": 6, "strokeWidth": 0.6, "opacity": 1},
            "encoding": {"shape": {"field": "s", "type": "nominal"}, "stroke": {"field": "s", "type": "nominal"}}}
         ]},
        {"title": "24–28 Hz", "width": 112, "height": 43, "transform": [{"filter": "datum.f == '24–28'"}],
         "encoding": {"x": {"field": "x", "type": "quantitative", "title": null, "scale": {"domain": [1, 4], "nice": false, "zero": false}, "axis": {"values": [1, 1.5, 2, 2.5, 3, 3.5, 4], "format": "~g"}},
                      "y": {"field": "y", "type": "quantitative", "title": null, "scale": {"domain": [0, 700], "nice": false}, "axis": {"values": [0, 200, 400, 600]}},
                      "color": {"field": "s", "type": "nominal"}},
         "layer": [
           {"transform": [{"filter": "!datum.k"}], "mark": {"type": "line", "strokeWidth": 0.9}},
           {"transform": [{"filter": "datum.k"}], "mark": {"type": "line", "strokeWidth": 0.9}},
           {"transform": [{"filter": "datum.k == 'lo' || datum.k == 'hi'"}], "mark": {"type": "tick", "orient": "vertical", "size": 5, "thickness": 0.9}},
           {"transform": [{"filter": "datum.k != 'lo' && datum.k != 'hi'"}], "mark": {"type": "point", "filled": true, "size": 6, "strokeWidth": 0.6, "opacity": 1},
            "encoding": {"shape": {"field": "s", "type": "nominal"}, "stroke": {"field": "s", "type": "nominal"}}}
         ]},
        {"title": "36–40 Hz", "width": 112, "height": 43, "transform": [{"filter": "datum.f == '36–40'"}],
         "encoding": {"x": {"field": "x", "type": "quantitative", "title": null, "scale": {"domain": [1, 3.5], "nice": false, "zero": false}, "axis": {"values": [1, 1.5, 2, 2.5, 3, 3.5], "format": "~g"}},
                      "y": {"field": "y", "type": "quantitative", "title": null, "scale": {"domain": [0, 700], "nice": false}, "axis": {"values": [0, 200, 400, 600]}},
                      "color": {"field": "s", "type": "nominal"}},
         "layer": [
           {"transform": [{"filter": "!datum.k"}], "mark": {"type": "line", "strokeWidth": 0.9}},
           {"transform": [{"filter": "datum.k"}], "mark": {"type": "line", "strokeWidth": 0.9}},
           {"transform": [{"filter": "datum.k == 'lo' || datum.k == 'hi'"}], "mark": {"type": "tick", "orient": "vertical", "size": 5, "thickness": 0.9}},
           {"transform": [{"filter": "datum.k != 'lo' && datum.k != 'hi'"}], "mark": {"type": "point", "filled": true, "size": 6, "strokeWidth": 0.6, "opacity": 1},
            "encoding": {"shape": {"field": "s", "type": "nominal"}, "stroke": {"field": "s", "type": "nominal"}}}
         ]},
        {"title": "48–52 Hz", "width": 112, "height": 43, "transform": [{"filter": "datum.f == '48–52'"}],
         "encoding": {"x": {"field": "x", "type": "quantitative", "title": null, "scale": {"domain": [0.5, 3], "nice": false, "zero": false}, "axis": {"values": [0.5, 1, 1.5, 2, 2.5, 3], "format": "~g"}},
                      "y": {"field": "y", "type": "quantitative", "title": null, "scale": {"domain": [0, 700], "nice": false}, "axis": {"values": [0, 200, 400, 600]}},
                      "color": {"field": "s", "type": "nominal"}},
         "layer": [
           {"transform": [{"filter": "!datum.k"}], "mark": {"type": "line", "strokeWidth": 0.9}},
           {"transform": [{"filter": "datum.k"}], "mark": {"type": "line", "strokeWidth": 0.9}},
           {"transform": [{"filter": "datum.k == 'lo' || datum.k == 'hi'"}], "mark": {"type": "tick", "orient": "vertical", "size": 5, "thickness": 0.9}},
           {"transform": [{"filter": "datum.k != 'lo' && datum.k != 'hi'"}], "mark": {"type": "point", "filled": true, "size": 6, "strokeWidth": 0.6, "opacity": 1},
            "encoding": {"shape": {"field": "s", "type": "nominal"}, "stroke": {"field": "s", "type": "nominal"}}}
         ]},
        {"width": 112, "height": 42, "data": {"name": "keys"},
         "title": {"text": "(a)", "orient": "bottom", "dx": -19, "offset": 0},
         "encoding": {"y": {"field": "s", "type": "nominal", "scale": {"type": "point", "padding": 1.2}, "axis": null},
                      "color": {"field": "s", "type": "nominal"}},
         "layer": [
           {"mark": {"type": "rule", "strokeWidth": 0.9}, "encoding": {"x": {"datum": 0, "type": "quantitative", "scale": {"domain": [0, 8]}, "axis": null}, "x2": {"datum": 1}}},
           {"mark": {"type": "point", "filled": true, "size": 6, "strokeWidth": 0.6, "opacity": 1}, "encoding": {"x": {"datum": 0.5, "type": "quantitative"}, "shape": {"field": "s", "type": "nominal"}, "stroke": {"field": "s", "type": "nominal"}}},
           {"mark": {"type": "text", "align": "left", "baseline": "middle", "fontSize": 8}, "encoding": {"x": {"datum": 1.3, "type": "quantitative"}, "text": {"field": "s"}, "color": {"value": "#1a1a1a"}}}
         ]}
      ]
    },
    {
      "spacing": 14.5,
      "vconcat": [
        {"title": "4–8 Hz", "width": 112, "height": 43, "transform": [{"filter": "datum.f == '4–8'"}],
         "encoding": {"x": {"field": "x", "type": "quantitative", "title": null, "scale": {"domain": [2, 4.5], "nice": false, "zero": false}, "axis": {"values": [2, 2.5, 3, 3.5, 4, 4.5], "format": "~g"}},
                      "y": {"field": "y", "type": "quantitative", "title": null, "scale": {"domain": [0, 700], "nice": false}, "axis": {"values": [0, 200, 400, 600]}},
                      "color": {"field": "s", "type": "nominal"}},
         "layer": [
           {"transform": [{"filter": "!datum.k"}], "mark": {"type": "line", "strokeWidth": 0.9}},
           {"transform": [{"filter": "datum.k"}], "mark": {"type": "line", "strokeWidth": 0.9}},
           {"transform": [{"filter": "datum.k == 'lo' || datum.k == 'hi'"}], "mark": {"type": "tick", "orient": "vertical", "size": 5, "thickness": 0.9}},
           {"transform": [{"filter": "datum.k != 'lo' && datum.k != 'hi'"}], "mark": {"type": "point", "filled": true, "size": 6, "strokeWidth": 0.6, "opacity": 1},
            "encoding": {"shape": {"field": "s", "type": "nominal"}, "stroke": {"field": "s", "type": "nominal"}}}
         ]},
        {"title": "16–20 Hz", "width": 112, "height": 43, "transform": [{"filter": "datum.f == '16–20'"}],
         "encoding": {"x": {"field": "x", "type": "quantitative", "title": null, "scale": {"domain": [1.5, 4.5], "nice": false, "zero": false}, "axis": {"values": [1.5, 2, 2.5, 3, 3.5, 4, 4.5], "format": "~g"}},
                      "y": {"field": "y", "type": "quantitative", "title": null, "scale": {"domain": [0, 700], "nice": false}, "axis": {"values": [0, 200, 400, 600]}},
                      "color": {"field": "s", "type": "nominal"}},
         "layer": [
           {"transform": [{"filter": "!datum.k"}], "mark": {"type": "line", "strokeWidth": 0.9}},
           {"transform": [{"filter": "datum.k"}], "mark": {"type": "line", "strokeWidth": 0.9}},
           {"transform": [{"filter": "datum.k == 'lo' || datum.k == 'hi'"}], "mark": {"type": "tick", "orient": "vertical", "size": 5, "thickness": 0.9}},
           {"transform": [{"filter": "datum.k != 'lo' && datum.k != 'hi'"}], "mark": {"type": "point", "filled": true, "size": 6, "strokeWidth": 0.6, "opacity": 1},
            "encoding": {"shape": {"field": "s", "type": "nominal"}, "stroke": {"field": "s", "type": "nominal"}}}
         ]},
        {"title": "28–32 Hz", "width": 112, "height": 43, "transform": [{"filter": "datum.f == '28–32'"}],
         "encoding": {"x": {"field": "x", "type": "quantitative", "title": null, "scale": {"domain": [1, 3.5], "nice": false, "zero": false}, "axis": {"values": [1, 1.5, 2, 2.5, 3, 3.5], "format": "~g"}},
                      "y": {"field": "y", "type": "quantitative", "title": null, "scale": {"domain": [0, 700], "nice": false}, "axis": {"values": [0, 200, 400, 600]}},
                      "color": {"field": "s", "type": "nominal"}},
         "layer": [
           {"transform": [{"filter": "!datum.k"}], "mark": {"type": "line", "strokeWidth": 0.9}},
           {"transform": [{"filter": "datum.k"}], "mark": {"type": "line", "strokeWidth": 0.9}},
           {"transform": [{"filter": "datum.k == 'lo' || datum.k == 'hi'"}], "mark": {"type": "tick", "orient": "vertical", "size": 5, "thickness": 0.9}},
           {"transform": [{"filter": "datum.k != 'lo' && datum.k != 'hi'"}], "mark": {"type": "point", "filled": true, "size": 6, "strokeWidth": 0.6, "opacity": 1},
            "encoding": {"shape": {"field": "s", "type": "nominal"}, "stroke": {"field": "s", "type": "nominal"}}}
         ]},
        {"title": "40–44 Hz", "width": 112, "height": 43, "transform": [{"filter": "datum.f == '40–44'"}],
         "encoding": {"x": {"field": "x", "type": "quantitative", "title": null, "scale": {"domain": [0.5, 3], "nice": false, "zero": false}, "axis": {"values": [0.5, 1, 1.5, 2, 2.5, 3], "format": "~g"}},
                      "y": {"field": "y", "type": "quantitative", "title": null, "scale": {"domain": [0, 700], "nice": false}, "axis": {"values": [0, 200, 400, 600]}},
                      "color": {"field": "s", "type": "nominal"}},
         "layer": [
           {"transform": [{"filter": "!datum.k"}], "mark": {"type": "line", "strokeWidth": 0.9}},
           {"transform": [{"filter": "datum.k"}], "mark": {"type": "line", "strokeWidth": 0.9}},
           {"transform": [{"filter": "datum.k == 'lo' || datum.k == 'hi'"}], "mark": {"type": "tick", "orient": "vertical", "size": 5, "thickness": 0.9}},
           {"transform": [{"filter": "datum.k != 'lo' && datum.k != 'hi'"}], "mark": {"type": "point", "filled": true, "size": 6, "strokeWidth": 0.6, "opacity": 1},
            "encoding": {"shape": {"field": "s", "type": "nominal"}, "stroke": {"field": "s", "type": "nominal"}}}
         ]},
        {"title": "52–56 Hz", "width": 112, "height": 43, "transform": [{"filter": "datum.f == '52–56'"}],
         "encoding": {"x": {"field": "x", "type": "quantitative", "title": null, "scale": {"domain": [0.5, 3], "nice": false, "zero": false}, "axis": {"values": [0.5, 1, 1.5, 2, 2.5, 3], "format": "~g"}},
                      "y": {"field": "y", "type": "quantitative", "title": null, "scale": {"domain": [0, 700], "nice": false}, "axis": {"values": [0, 200, 400, 600]}},
                      "color": {"field": "s", "type": "nominal"}},
         "layer": [
           {"transform": [{"filter": "!datum.k"}], "mark": {"type": "line", "strokeWidth": 0.9}},
           {"transform": [{"filter": "datum.k"}], "mark": {"type": "line", "strokeWidth": 0.9}},
           {"transform": [{"filter": "datum.k == 'lo' || datum.k == 'hi'"}], "mark": {"type": "tick", "orient": "vertical", "size": 5, "thickness": 0.9}},
           {"transform": [{"filter": "datum.k != 'lo' && datum.k != 'hi'"}], "mark": {"type": "point", "filled": true, "size": 6, "strokeWidth": 0.6, "opacity": 1},
            "encoding": {"shape": {"field": "s", "type": "nominal"}, "stroke": {"field": "s", "type": "nominal"}}}
         ]},
        {"width": 112, "height": 42, "data": {"name": "keys"},
         "title": {"text": "(b)", "orient": "bottom", "dx": -19, "offset": 0},
         "encoding": {"y": {"field": "s", "type": "nominal", "scale": {"type": "point", "padding": 1.2}, "axis": null},
                      "color": {"field": "s", "type": "nominal"}},
         "layer": [
           {"mark": {"type": "rule", "strokeWidth": 0.9}, "encoding": {"x": {"datum": 0, "type": "quantitative", "scale": {"domain": [0, 8]}, "axis": null}, "x2": {"datum": 1}}},
           {"mark": {"type": "point", "filled": true, "size": 6, "strokeWidth": 0.6, "opacity": 1}, "encoding": {"x": {"datum": 0.5, "type": "quantitative"}, "shape": {"field": "s", "type": "nominal"}, "stroke": {"field": "s", "type": "nominal"}}},
           {"mark": {"type": "text", "align": "left", "baseline": "middle", "fontSize": 8}, "encoding": {"x": {"datum": 1.3, "type": "quantitative"}, "text": {"field": "s"}, "color": {"value": "#1a1a1a"}}}
         ]}
      ]
    },
    {
      "spacing": 14.5,
      "vconcat": [
        {"title": "8–12 Hz", "width": 112, "height": 43, "transform": [{"filter": "datum.f == '8–12'"}],
         "encoding": {"x": {"field": "x", "type": "quantitative", "title": null, "scale": {"domain": [2, 4.5], "nice": false, "zero": false}, "axis": {"values": [2, 2.5, 3, 3.5, 4, 4.5], "format": "~g"}},
                      "y": {"field": "y", "type": "quantitative", "title": null, "scale": {"domain": [0, 700], "nice": false}, "axis": {"values": [0, 200, 400, 600]}},
                      "color": {"field": "s", "type": "nominal"}},
         "layer": [
           {"transform": [{"filter": "!datum.k"}], "mark": {"type": "line", "strokeWidth": 0.9}},
           {"transform": [{"filter": "datum.k"}], "mark": {"type": "line", "strokeWidth": 0.9}},
           {"transform": [{"filter": "datum.k == 'lo' || datum.k == 'hi'"}], "mark": {"type": "tick", "orient": "vertical", "size": 5, "thickness": 0.9}},
           {"transform": [{"filter": "datum.k != 'lo' && datum.k != 'hi'"}], "mark": {"type": "point", "filled": true, "size": 6, "strokeWidth": 0.6, "opacity": 1},
            "encoding": {"shape": {"field": "s", "type": "nominal"}, "stroke": {"field": "s", "type": "nominal"}}}
         ]},
        {"title": "20–24 Hz", "width": 112, "height": 43, "transform": [{"filter": "datum.f == '20–24'"}],
         "encoding": {"x": {"field": "x", "type": "quantitative", "title": null, "scale": {"domain": [1.5, 4], "nice": false, "zero": false}, "axis": {"values": [1.5, 2, 2.5, 3, 3.5, 4], "format": "~g"}},
                      "y": {"field": "y", "type": "quantitative", "title": null, "scale": {"domain": [0, 700], "nice": false}, "axis": {"values": [0, 200, 400, 600]}},
                      "color": {"field": "s", "type": "nominal"}},
         "layer": [
           {"transform": [{"filter": "!datum.k"}], "mark": {"type": "line", "strokeWidth": 0.9}},
           {"transform": [{"filter": "datum.k"}], "mark": {"type": "line", "strokeWidth": 0.9}},
           {"transform": [{"filter": "datum.k == 'lo' || datum.k == 'hi'"}], "mark": {"type": "tick", "orient": "vertical", "size": 5, "thickness": 0.9}},
           {"transform": [{"filter": "datum.k != 'lo' && datum.k != 'hi'"}], "mark": {"type": "point", "filled": true, "size": 6, "strokeWidth": 0.6, "opacity": 1},
            "encoding": {"shape": {"field": "s", "type": "nominal"}, "stroke": {"field": "s", "type": "nominal"}}}
         ]},
        {"title": "32–36 Hz", "width": 112, "height": 43, "transform": [{"filter": "datum.f == '32–36'"}],
         "encoding": {"x": {"field": "x", "type": "quantitative", "title": null, "scale": {"domain": [1, 3.5], "nice": false, "zero": false}, "axis": {"values": [1, 1.5, 2, 2.5, 3, 3.5], "format": "~g"}},
                      "y": {"field": "y", "type": "quantitative", "title": null, "scale": {"domain": [0, 700], "nice": false}, "axis": {"values": [0, 200, 400, 600]}},
                      "color": {"field": "s", "type": "nominal"}},
         "layer": [
           {"transform": [{"filter": "!datum.k"}], "mark": {"type": "line", "strokeWidth": 0.9}},
           {"transform": [{"filter": "datum.k"}], "mark": {"type": "line", "strokeWidth": 0.9}},
           {"transform": [{"filter": "datum.k == 'lo' || datum.k == 'hi'"}], "mark": {"type": "tick", "orient": "vertical", "size": 5, "thickness": 0.9}},
           {"transform": [{"filter": "datum.k != 'lo' && datum.k != 'hi'"}], "mark": {"type": "point", "filled": true, "size": 6, "strokeWidth": 0.6, "opacity": 1},
            "encoding": {"shape": {"field": "s", "type": "nominal"}, "stroke": {"field": "s", "type": "nominal"}}}
         ]},
        {"title": "44–48 Hz", "width": 112, "height": 43, "transform": [{"filter": "datum.f == '44–48'"}],
         "encoding": {"x": {"field": "x", "type": "quantitative", "title": null, "scale": {"domain": [0.5, 3], "nice": false, "zero": false}, "axis": {"values": [0.5, 1, 1.5, 2, 2.5, 3], "format": "~g"}},
                      "y": {"field": "y", "type": "quantitative", "title": null, "scale": {"domain": [0, 700], "nice": false}, "axis": {"values": [0, 200, 400, 600]}},
                      "color": {"field": "s", "type": "nominal"}},
         "layer": [
           {"transform": [{"filter": "!datum.k"}], "mark": {"type": "line", "strokeWidth": 0.9}},
           {"transform": [{"filter": "datum.k"}], "mark": {"type": "line", "strokeWidth": 0.9}},
           {"transform": [{"filter": "datum.k == 'lo' || datum.k == 'hi'"}], "mark": {"type": "tick", "orient": "vertical", "size": 5, "thickness": 0.9}},
           {"transform": [{"filter": "datum.k != 'lo' && datum.k != 'hi'"}], "mark": {"type": "point", "filled": true, "size": 6, "strokeWidth": 0.6, "opacity": 1},
            "encoding": {"shape": {"field": "s", "type": "nominal"}, "stroke": {"field": "s", "type": "nominal"}}}
         ]},
        {"title": "56–60 Hz", "width": 112, "height": 43, "transform": [{"filter": "datum.f == '56–60'"}],
         "encoding": {"x": {"field": "x", "type": "quantitative", "title": null, "scale": {"domain": [0.5, 3], "nice": false, "zero": false}, "axis": {"values": [0.5, 1, 1.5, 2, 2.5, 3], "format": "~g"}},
                      "y": {"field": "y", "type": "quantitative", "title": null, "scale": {"domain": [0, 700], "nice": false}, "axis": {"values": [0, 200, 400, 600]}},
                      "color": {"field": "s", "type": "nominal"}},
         "layer": [
           {"transform": [{"filter": "!datum.k"}], "mark": {"type": "line", "strokeWidth": 0.9}},
           {"transform": [{"filter": "datum.k"}], "mark": {"type": "line", "strokeWidth": 0.9}},
           {"transform": [{"filter": "datum.k == 'lo' || datum.k == 'hi'"}], "mark": {"type": "tick", "orient": "vertical", "size": 5, "thickness": 0.9}},
           {"transform": [{"filter": "datum.k != 'lo' && datum.k != 'hi'"}], "mark": {"type": "point", "filled": true, "size": 6, "strokeWidth": 0.6, "opacity": 1},
            "encoding": {"shape": {"field": "s", "type": "nominal"}, "stroke": {"field": "s", "type": "nominal"}}}
         ]},
        {"width": 112, "height": 42, "data": {"name": "keys"},
         "title": {"text": "(c)", "orient": "bottom", "dx": -19, "offset": 0},
         "encoding": {"y": {"field": "s", "type": "nominal", "scale": {"type": "point", "padding": 1.2}, "axis": null},
                      "color": {"field": "s", "type": "nominal"}},
         "layer": [
           {"mark": {"type": "rule", "strokeWidth": 0.9}, "encoding": {"x": {"datum": 0, "type": "quantitative", "scale": {"domain": [0, 8]}, "axis": null}, "x2": {"datum": 1}}},
           {"mark": {"type": "point", "filled": true, "size": 6, "strokeWidth": 0.6, "opacity": 1}, "encoding": {"x": {"datum": 0.5, "type": "quantitative"}, "shape": {"field": "s", "type": "nominal"}, "stroke": {"field": "s", "type": "nominal"}}},
           {"mark": {"type": "text", "align": "left", "baseline": "middle", "fontSize": 8}, "encoding": {"x": {"datum": 1.3, "type": "quantitative"}, "text": {"field": "s"}, "color": {"value": "#1a1a1a"}}}
         ]}
      ]
    }
  ],
  "spacing": 10,
  "config": {
    "font": "Liberation Serif",
    "view": {"stroke": null},
    "legend": {"disable": true},
    "range": {
      "category": ["#3f5fc2", "#ea4a3e", "#44a062"],
      "symbol": ["circle", "M-1,-1L1,1M-1,1L1,-1", "triangle-up"]
    },
    "axis": {
      "grid": false,
      "domainColor": "#1a1a1a",
      "domainWidth": 0.8,
      "tickColor": "#1a1a1a",
      "tickWidth": 0.8,
      "tickSize": 3,
      "labelFont": "Liberation Serif",
      "labelFontSize": 7.5,
      "labelColor": "#1a1a1a",
      "labelPadding": 1.5,
      "labelOverlap": false
    },
    "title": {"font": "Liberation Serif", "fontSize": 8.5, "fontWeight": "normal", "color": "#1a1a1a", "offset": 3}
  }
}
